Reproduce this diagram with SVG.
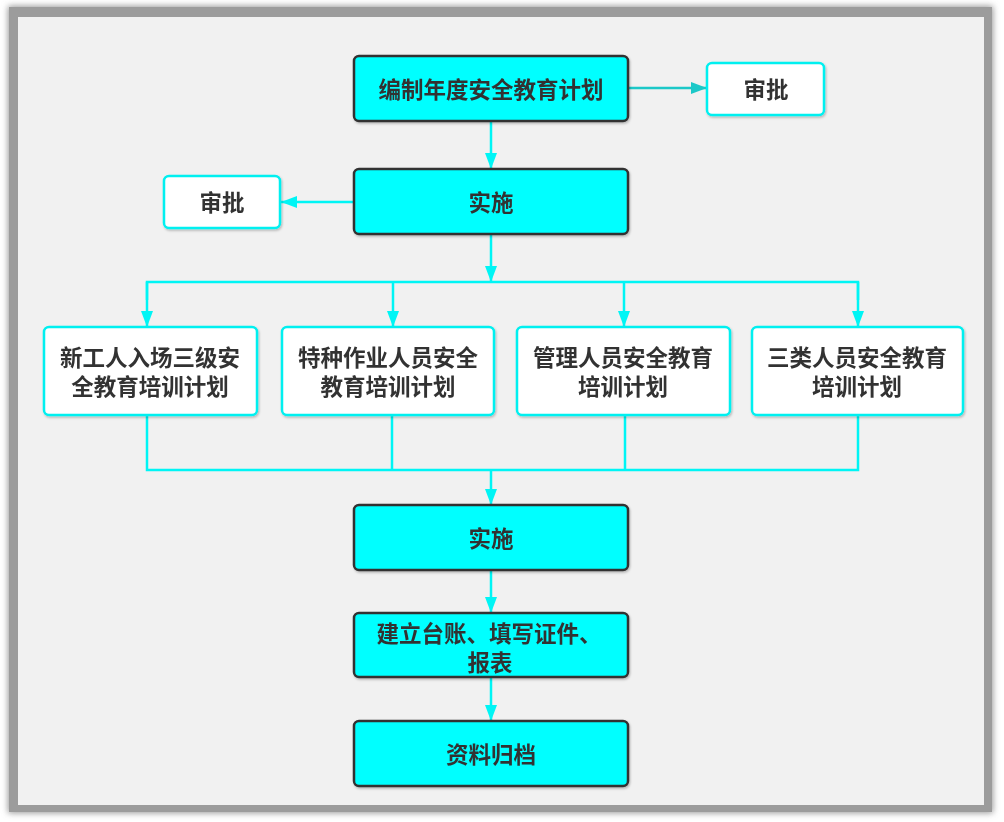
<svg xmlns="http://www.w3.org/2000/svg" width="1004" height="822" viewBox="0 0 1004 822">
<defs>
<filter id="fshadow" x="-5%" y="-5%" width="110%" height="110%">
<feGaussianBlur stdDeviation="3"/>
</filter>
<filter id="nshadow" x="-10%" y="-10%" width="120%" height="130%">
<feDropShadow dx="1" dy="1.5" stdDeviation="1.2" flood-color="#000" flood-opacity="0.25"/>
</filter>
<marker id="arr" viewBox="0 0 16 12" refX="16" refY="6" markerWidth="16" markerHeight="12" markerUnits="userSpaceOnUse" orient="auto">
<path d="M0,0 L16,6 L0,12 z" fill="#00f5f5"/>
</marker>
<marker id="arrT" viewBox="0 0 16 12" refX="16" refY="6" markerWidth="16" markerHeight="12" markerUnits="userSpaceOnUse" orient="auto">
<path d="M0,0 L16,6 L0,12 z" fill="#1cc8c8"/>
</marker>
<style>
.main rect{fill:#00ffff;stroke:#333;stroke-width:2.5}
.side rect{fill:#fff;stroke:#00f0f0;stroke-width:2.5}
text{font-family:"Noto Sans CJK SC","Noto Sans",sans-serif;font-weight:bold;font-size:22.5px;fill:#333;text-anchor:middle;dominant-baseline:central}
.c{fill:none;stroke:#00f5f5;stroke-width:2.5}
</style>
</defs>
<rect x="0" y="0" width="1004" height="822" fill="#fff"/>
<rect x="8" y="6" width="985" height="807" fill="#999" filter="url(#fshadow)"/>
<rect x="9" y="7" width="983" height="805" fill="#9c9c9c"/>
<rect x="18" y="17" width="966" height="788" fill="#f1f1f1"/>

<g id="connectors">
<line x1="628" y1="88" x2="707" y2="88" style="fill:none;stroke:#1cc8c8;stroke-width:2.5" marker-end="url(#arrT)"/>
<line class="c" x1="491" y1="121" x2="491" y2="169" marker-end="url(#arr)"/>
<line class="c" x1="354" y1="202" x2="281" y2="202" marker-end="url(#arr)"/>
<line class="c" x1="491" y1="234" x2="491" y2="282" marker-end="url(#arr)"/>
<polyline class="c" points="147,300 147,282 858,282 858,300"/>
<line class="c" x1="147" y1="282" x2="147" y2="327" marker-end="url(#arr)"/>
<line class="c" x1="393" y1="282" x2="393" y2="327" marker-end="url(#arr)"/>
<line class="c" x1="624" y1="282" x2="624" y2="327" marker-end="url(#arr)"/>
<line class="c" x1="858" y1="282" x2="858" y2="327" marker-end="url(#arr)"/>
<polyline class="c" points="147,415 147,470 858,470 858,415"/>
<line class="c" x1="392" y1="415" x2="392" y2="470"/>
<line class="c" x1="625" y1="415" x2="625" y2="470"/>
<line class="c" x1="491" y1="470" x2="491" y2="505" marker-end="url(#arr)"/>
<line class="c" x1="491" y1="570" x2="491" y2="613" marker-end="url(#arr)"/>
<line class="c" x1="491" y1="677" x2="491" y2="721" marker-end="url(#arr)"/>
</g>

<g id="n-plan" class="main" filter="url(#nshadow)">
<rect x="354" y="56" width="274" height="65" rx="5"/>
<text x="491" y="88">编制年度安全教育计划</text>
</g>
<g id="n-approve1" class="side" filter="url(#nshadow)">
<rect x="707" y="63" width="117" height="52" rx="5"/>
<text x="766" y="88">审批</text>
</g>
<g id="n-impl1" class="main" filter="url(#nshadow)">
<rect x="354" y="169" width="274" height="65" rx="5"/>
<text x="491" y="201">实施</text>
</g>
<g id="n-approve2" class="side" filter="url(#nshadow)">
<rect x="164" y="176" width="116" height="52" rx="5"/>
<text x="222" y="201">审批</text>
</g>
<g id="n-new" class="side" filter="url(#nshadow)">
<rect x="44" y="327" width="213" height="88" rx="5"/>
<text><tspan x="150" y="356">新工人入场三级安</tspan><tspan x="150" y="385">全教育培训计划</tspan></text>
</g>
<g id="n-special" class="side" filter="url(#nshadow)">
<rect x="282" y="327" width="212" height="88" rx="5"/>
<text><tspan x="388" y="356">特种作业人员安全</tspan><tspan x="388" y="385">教育培训计划</tspan></text>
</g>
<g id="n-manager" class="side" filter="url(#nshadow)">
<rect x="517" y="327" width="213" height="88" rx="5"/>
<text><tspan x="623" y="356">管理人员安全教育</tspan><tspan x="623" y="385">培训计划</tspan></text>
</g>
<g id="n-three" class="side" filter="url(#nshadow)">
<rect x="752" y="327" width="211" height="88" rx="5"/>
<text><tspan x="857" y="356">三类人员安全教育</tspan><tspan x="857" y="385">培训计划</tspan></text>
</g>
<g id="n-impl2" class="main" filter="url(#nshadow)">
<rect x="354" y="505" width="274" height="65" rx="5"/>
<text x="491" y="537">实施</text>
</g>
<g id="n-ledger" class="main" filter="url(#nshadow)">
<rect x="354" y="613" width="274" height="64" rx="5"/>
<text><tspan x="489" y="632">建立台账、填写证件、</tspan><tspan x="490" y="661">报表</tspan></text>
</g>
<g id="n-archive" class="main" filter="url(#nshadow)">
<rect x="354" y="721" width="274" height="65" rx="5"/>
<text x="491" y="753">资料归档</text>
</g>
</svg>
